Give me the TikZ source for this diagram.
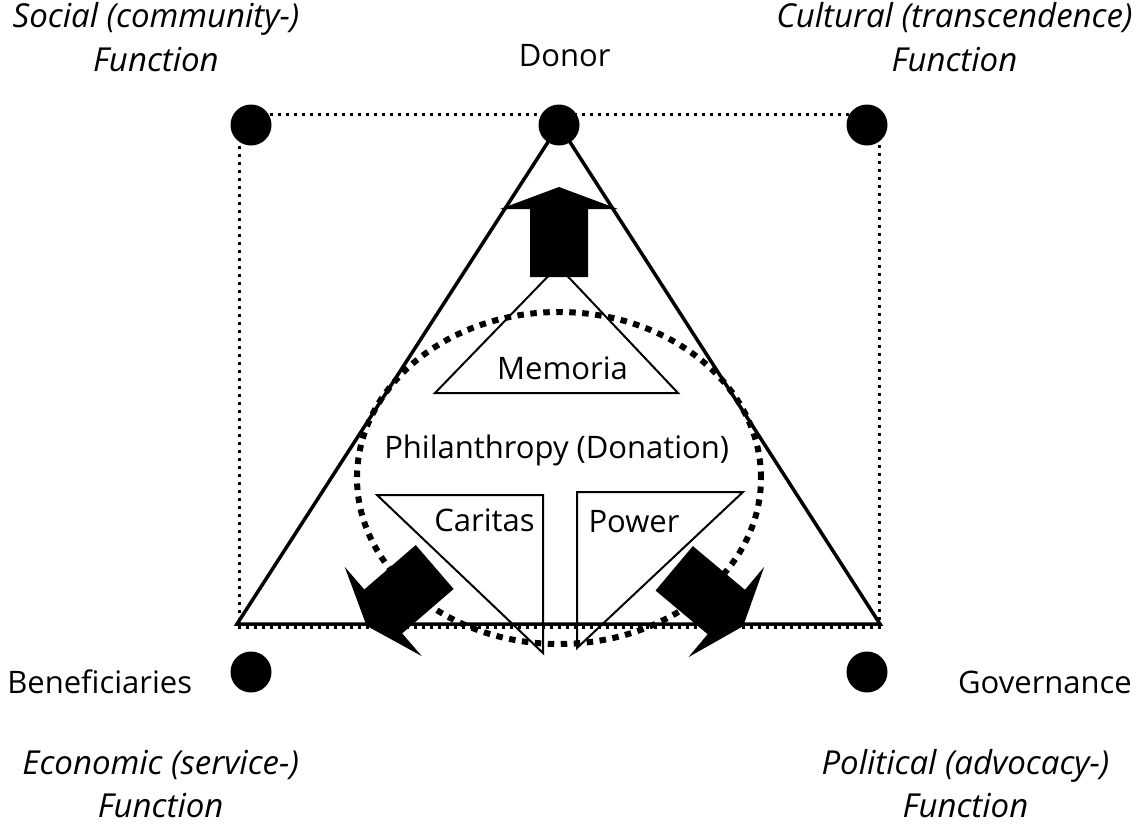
\documentclass[tikz,border=0pt]{standalone}
\usepackage{fontspec}
\setmainfont{Open Sans}
\begin{document}
\begin{tikzpicture}[x=1pt,y=-1pt,
  dot/.style={circle,fill=black,draw=none,minimum size=41pt,inner sep=0pt},
  rectdots/.style={line width=3pt,dash pattern=on 3pt off 5pt},
  elldots/.style={line width=6pt,dash pattern=on 6.5pt off 6.5pt},
  mainline/.style={line width=3.5pt,line join=miter},
  thinline/.style={line width=2pt,line join=miter},
  lbl/.style={anchor=base,inner sep=0pt,font=\fontsize{31}{36}\selectfont},
  ilbl/.style={anchor=base,inner sep=0pt,font=\fontsize{33}{40}\selectfont\itshape},
  pics/blockarrow/.style={code={
    \fill[black] (0pt,29pt) -- (68pt,29pt) -- (68pt,59pt) -- (90pt,0pt)
      -- (68pt,-59pt) -- (68pt,-29pt) -- (0pt,-29pt) -- cycle;}}
]
\useasboundingbox (0,0) rectangle (1141,828);
% dotted square
\draw[rectdots] (239,114) rectangle (879,627);
% dotted ellipse
\draw[elldots] (559,478) ellipse [x radius=202pt, y radius=166pt];
% main triangle
\coordinate (apex) at (559,125);
\coordinate (bl) at (237,624);
\coordinate (br) at (880,624);
\draw[mainline] (apex) -- (bl) -- (br) -- cycle;
% inner triangles
\draw[thinline] (558,266) -- (435,393) -- (678,393) -- cycle;
\draw[thinline] (377,495) -- (543,495) -- (543,653) -- cycle;
\draw[thinline] (577,492) -- (743,492) -- (577,648) -- cycle;
% dots
\node[dot] (tl) at (251,125) {};
\node[dot] (donordot) at (559,125) {};
\node[dot] (tr) at (867,125) {};
\node[dot] (bldot) at (251,672) {};
\node[dot] (brdot) at (867,672) {};
% block arrows
\pic[rotate=90] (up) at (559,277) {blockarrow};
\pic[rotate=220.8] (left) at (434.7,567) {blockarrow};
\pic[rotate=-40] (right) at (674.2,568.3) {blockarrow};
% labels
\node[lbl] (donor) at (564.7,66.7) {Donor};
\node[ilbl] (soc1) at (156,27) {Social (community-)};
\node[ilbl] (soc2) at (156,71) {Function};
\node[ilbl] (cul1) at (954.5,27) {Cultural (transcendence)};
\node[ilbl] (cul2) at (954.5,71) {Function};
\node[lbl] (ben) at (99.7,693) {Beneficiaries};
\node[lbl] (gov) at (1045,693) {Governance};
\node[ilbl] (eco1) at (160.7,774) {Economic (service-)};
\node[ilbl] (eco2) at (160.7,817) {Function};
\node[ilbl] (pol1) at (965.5,774) {Political (advocacy-)};
\node[ilbl] (pol2) at (965.5,817) {Function};
\node[lbl] (phil) at (556.7,458) {Philanthropy (Donation)};
\node[lbl] (mem) at (562.5,379.3) {Memoria};
\node[lbl] (car) at (484.5,531.7) {Caritas};
\node[lbl] (pow) at (634,532) {Power};
\end{tikzpicture}
\end{document}
